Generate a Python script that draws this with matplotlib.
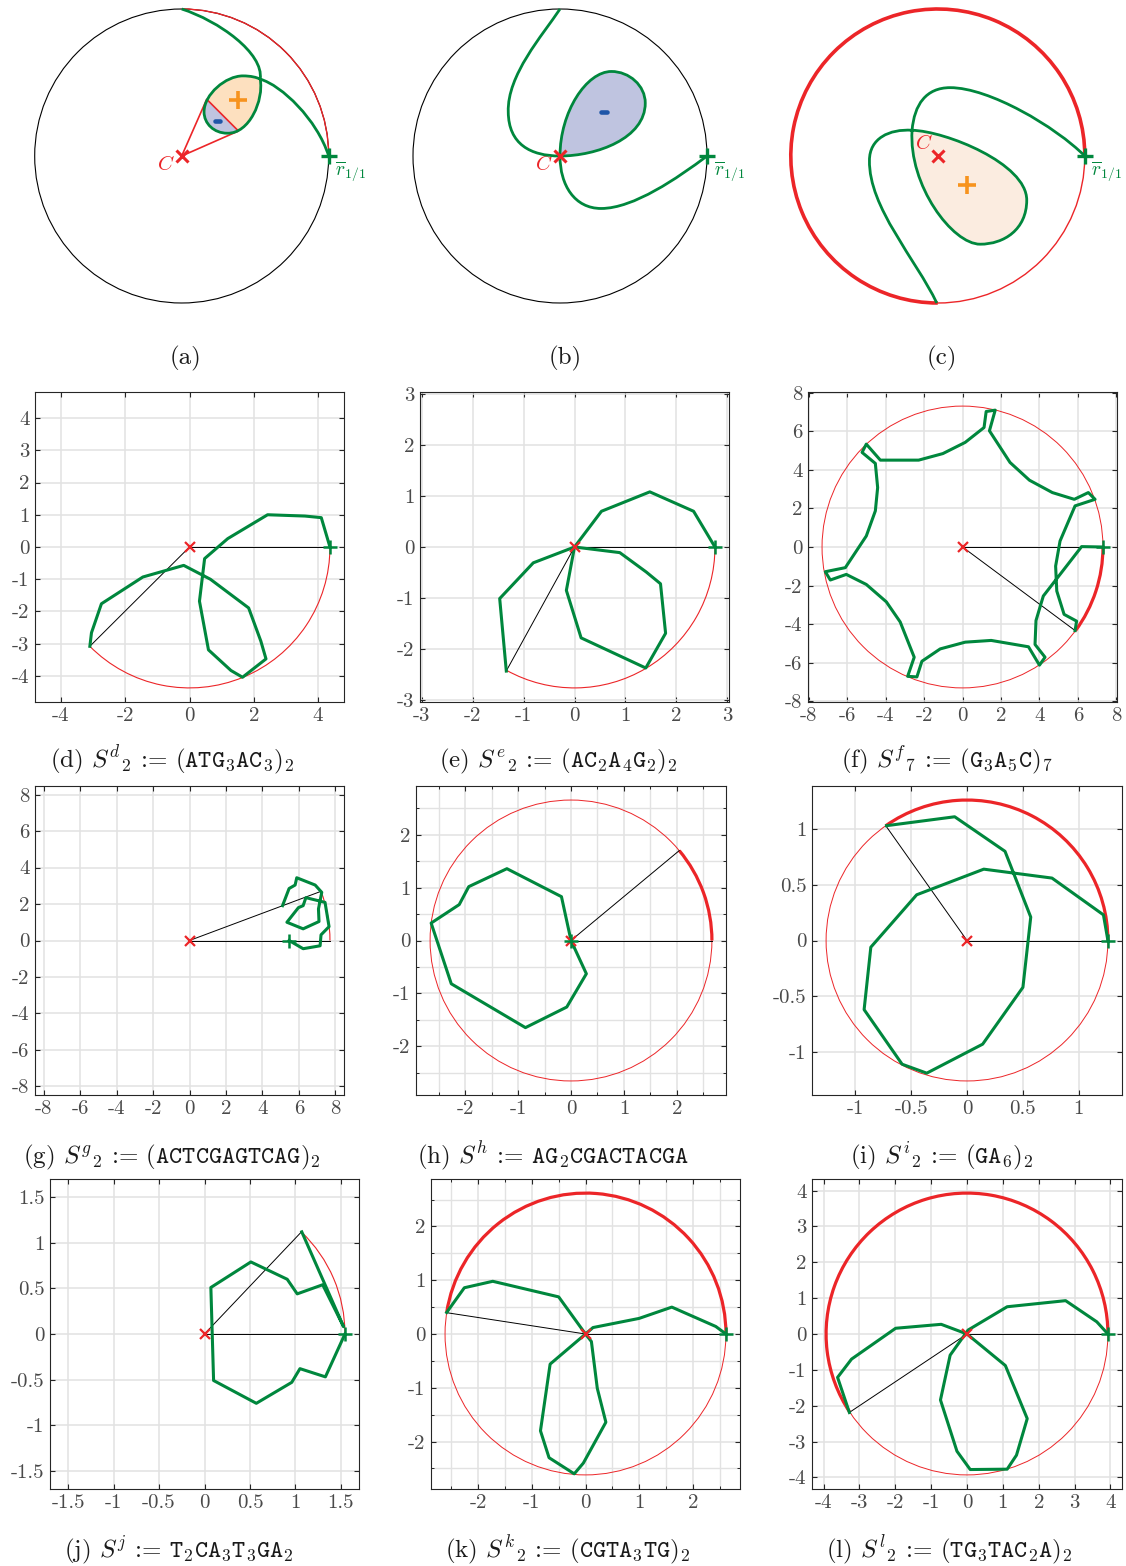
import numpy as np
import matplotlib
matplotlib.use('Agg')
import matplotlib.pyplot as plt
from matplotlib.patches import Arc, Circle, PathPatch, Polygon
from matplotlib.path import Path
from matplotlib.ticker import MultipleLocator, FuncFormatter

W, H = 1126, 1566
GREEN = '#00873d'
RED = '#ec2528'
ORANGE = '#f7931e'
BLUE = '#1f56a8'
FILL_ORANGE = '#fde0bf'
FILL_ORANGE_C = '#fbece0'
FILL_BLUE = '#bfc4e0'
GRID = '#e2e2e2'
AXC = '#262626'
TICKC = '#4a4a4a'

plt.rcParams['font.family'] = 'cmr10'
plt.rcParams['mathtext.fontset'] = 'cm'
plt.rcParams['axes.unicode_minus'] = False

# --- schematic curves (a)-(c), unit circle, cubic bezier control points ---
A_CURVE = [(0, 1), (0.25, 0.92), (0.56, 0.70), (0.534, 0.523),
           (0.56, 0.38), (0.46, 0.15), (0.31, 0.155),
           (0.22, 0.155), (0.152, 0.22), (0.152, 0.30),
           (0.152, 0.42), (0.30, 0.545), (0.416, 0.545),
           (0.47, 0.545), (0.51, 0.535), (0.534, 0.523),
           (0.68, 0.48), (0.92, 0.25), (1.0, 0.0)]
A_CHORD = [(0.17, 0.386), (0.386, 0.17)]
A_PLUS = (0.382, 0.382)
A_MINUS = (0.243, 0.241)

B_CURVE = [(0, 1), (-0.12, 0.82), (-0.36, 0.55), (-0.352, 0.30),
           (-0.35, 0.08), (-0.2, 0.0), (0, 0),
           (0.25, 0.0), (0.58, 0.12), (0.58, 0.36),
           (0.58, 0.48), (0.47, 0.575), (0.35, 0.575),
           (0.18, 0.575), (0.0, 0.3), (0, 0),
           (0.0, -0.2), (0.1, -0.357), (0.28, -0.357),
           (0.5, -0.357), (0.8, -0.15), (1, 0)]
B_MINUS = (0.30, 0.298)

C_CURVE = [(-0.007, -1.0), (-0.15, -0.70), (-0.47, -0.35), (-0.465, -0.03),
           (-0.465, 0.12), (-0.33, 0.185), (-0.175, 0.175),
           (0.05, 0.17), (0.605, -0.05), (0.605, -0.30),
           (0.605, -0.50), (0.45, -0.60), (0.288, -0.60),
           (0.10, -0.60), (-0.20, -0.20), (-0.175, 0.175),
           (-0.16, 0.35), (-0.08, 0.465), (0.084, 0.465),
           (0.35, 0.465), (0.8, 0.2), (1.0, 0.0)]
C_PLUS = (0.197, -0.2)

# --- walks (d)-(l) ---
D_X = [4.37, 4.10, 3.59, 2.43, 1.19, 0.47, 0.31, 0.59, 1.29, 1.65, 2.38, 2.22, 1.84, 0.65, -0.18, -1.45, -2.74, -3.05, -3.10]
D_Y = [0.0, 0.91, 0.96, 1.00, 0.26, -0.36, -1.68, -3.19, -3.83, -4.04, -3.47, -2.92, -1.89, -1.00, -0.57, -0.93, -1.76, -2.66, -3.08]
E_X = [2.76, 2.34, 1.48, 0.53, 0.0, 0.89, 1.41, 1.69, 1.79, 1.40, 0.13, -0.16, 0.0, -0.81, -1.47, -1.34]
E_Y = [0.0, 0.70, 1.08, 0.70, 0.0, -0.11, -0.49, -0.72, -1.69, -2.37, -1.78, -0.85, 0.0, -0.31, -1.01, -2.43]
F_X = [7.30, 6.19, 4.20, 3.82, 3.77, 4.29, 4.00, 3.43, 1.49, 0.14, -1.16, -2.11, -2.37, -2.85, -2.51, -3.24, -3.96,
       -5.00, -6.04, -6.87, -7.13, -6.09, -5.00, -4.53, -4.41, -4.53, -5.22, -5.00, -4.27, -2.28, -1.02, 0.14, 1.12,
       1.23, 1.70, 1.40, 2.47, 3.48, 4.67, 5.81, 6.54, 6.89, 5.85, 5.07, 4.84, 4.90, 5.28, 5.93, 5.85]
F_Y = [0.00, 0.02, -2.54, -3.81, -5.05, -5.71, -6.12, -5.17, -4.84, -4.93, -5.28, -5.92, -6.73, -6.70, -5.71, -3.88,
       -2.84, -1.94, -1.42, -1.71, -1.28, -1.07, 0.57, 1.87, 3.08, 4.33, 4.90, 5.33, 4.50, 4.50, 4.84, 5.42, 6.19,
       7.02, 7.09, 6.02, 4.38, 3.46, 2.82, 2.47, 2.82, 2.47, 2.13, 0.31, -0.99, -2.28, -3.49, -3.84, -4.33]
G_X = [5.46, 6.23, 7.16, 7.21, 7.65, 7.43, 6.38, 6.23, 5.97, 5.34, 6.23, 7.10, 7.07, 7.25, 6.89, 5.88, 5.79, 5.46, 5.10]
G_Y = [0.0, -0.45, -0.29, 0.31, 0.76, 2.09, 2.35, 1.91, 1.80, 1.00, 0.64, 1.04, 1.73, 2.64, 3.04, 3.44, 3.04, 2.85, 1.91]
H_X = [0.0, -0.18, -1.21, -1.93, -2.11, -2.64, -2.26, -0.86, -0.08, 0.29, 0.0]
H_Y = [0.0, 0.83, 1.36, 1.02, 0.68, 0.33, -0.82, -1.65, -1.26, -0.63, 0.0]
I_X = [1.26, 1.22, 0.76, 0.15, -0.45, -0.86, -0.92, -0.58, -0.36, 0.14, 0.50, 0.57, 0.34, -0.11, -0.72]
I_Y = [0.0, 0.23, 0.56, 0.64, 0.41, -0.06, -0.62, -1.11, -1.19, -0.93, -0.42, 0.21, 0.80, 1.11, 1.03]
J_X = [1.545, 1.33, 1.05, 0.96, 0.57, 0.10, 0.07, 0.51, 0.91, 1.02, 1.30, 1.53, 1.07]
J_Y = [0.0, -0.47, -0.38, -0.53, -0.76, -0.51, 0.51, 0.79, 0.60, 0.44, 0.54, 0.08, 1.12]
K_X = [2.62, 2.43, 1.61, 1.00, 0.14, 0.0, 0.11, 0.22, 0.38, -0.04, -0.21, -0.68, -0.84, -0.66, 0.0, -0.50, -1.73, -2.26, -2.59]
K_Y = [0.0, 0.14, 0.50, 0.29, 0.12, 0.0, -0.14, -1.01, -1.64, -2.40, -2.60, -2.30, -1.80, -0.56, 0.0, 0.69, 0.98, 0.86, 0.40]
L_X = [3.93, 3.62, 2.75, 1.12, 0.03, -0.47, -0.74, -0.28, 0.09, 1.12, 1.38, 1.68, 1.07, 0.0, -0.72, -1.99, -3.22, -3.61, -3.28]
L_Y = [0.0, 0.34, 0.93, 0.76, 0.11, -0.59, -1.84, -3.27, -3.78, -3.77, -3.38, -2.36, -0.88, 0.0, 0.27, 0.16, -0.70, -1.21, -2.19]

RADII = {'d': 4.37, 'e': 2.76, 'f': 7.3, 'g': 7.7, 'h': 2.66, 'i': 1.26, 'j': 1.545, 'k': 2.62, 'l': 3.93}
# winding angle (degrees) swept by the red arc
WIND_DEG = {'d': -135.2, 'e': -118.9, 'f': -36.5, 'g': 20.5, 'h': 39.8,
            'i': 125.2, 'j': 46.4, 'k': 171.3, 'l': 213.7}
FULL_CIRCLE = ['f', 'h', 'i', 'k', 'l']
TICK_STEP = {'d': (2, 1), 'e': (1, 1), 'f': (2, 2), 'g': (2, 2), 'h': (1, 1),
             'i': (0.5, 0.5), 'j': (0.5, 0.5), 'k': (1, 1), 'l': (1, 1)}
MINOR_GRID = ['h', 'k']

CAPTIONS = {
    'a': '(a)', 'b': '(b)', 'c': '(c)',
    'd': r'(d) $S^{d}{}_{2}$ := $(\mathtt{ATG}_{3}\mathtt{AC}_{3})_{2}$',
    'e': r'(e) $S^{e}{}_{2}$ := $(\mathtt{AC}_{2}\mathtt{A}_{4}\mathtt{G}_{2})_{2}$',
    'f': r'(f) $S^{f}{}_{7}$ := $(\mathtt{G}_{3}\mathtt{A}_{5}\mathtt{C})_{7}$',
    'g': r'(g) $S^{g}{}_{2}$ := $(\mathtt{ACTCGAGTCAG})_{2}$',
    'h': r'(h) $S^{h}$ := $\mathtt{AG}_{2}\mathtt{CGACTACGA}$',
    'i': r'(i) $S^{i}{}_{2}$ := $(\mathtt{GA}_{6})_{2}$',
    'j': r'(j) $S^{j}$ := $\mathtt{T}_{2}\mathtt{CA}_{3}\mathtt{T}_{3}\mathtt{GA}_{2}$',
    'k': r'(k) $S^{k}{}_{2}$ := $(\mathtt{CGTA}_{3}\mathtt{TG})_{2}$',
    'l': r'(l) $S^{l}{}_{2}$ := $(\mathtt{TG}_{3}\mathtt{TAC}_{2}\mathtt{A})_{2}$',
}

WALKS = {'d': (D_X, D_Y), 'e': (E_X, E_Y), 'f': (F_X, F_Y), 'g': (G_X, G_Y), 'h': (H_X, H_Y),
         'i': (I_X, I_Y), 'j': (J_X, J_Y), 'k': (K_X, K_Y), 'l': (L_X, L_Y)}

# layout in pixels: (left, top, width, height)
BOXES = {'d': (35, 392, 309, 310), 'e': (420, 392, 309, 310), 'f': (808, 392, 309, 310),
         'g': (35, 786, 309, 309), 'h': (416, 786, 310, 309), 'i': (812, 786, 310, 309),
         'j': (50, 1179, 309, 310), 'k': (431, 1179, 309, 310), 'l': (812, 1179, 310, 310)}
CAP_POS = {'a': (186, 364), 'b': (565, 364), 'c': (942, 364),
           'd': (172, 767), 'e': (558, 767), 'f': (947, 767),
           'g': (172, 1163), 'h': (553, 1163), 'i': (942, 1163),
           'j': (179, 1557), 'k': (568, 1557), 'l': (949, 1557)}
SCHEM_CENTER = {'a': 181.7, 'b': 560.0, 'c': 937.8}
SCHEM_R = 147.0


def px_axes(fig, left, top, width, height):
    return fig.add_axes([left / W, 1 - (top + height) / H, width / W, height / H])


def bez(points):
    codes = [Path.MOVETO] + [Path.CURVE4] * (len(points) - 1)
    return Path(points, codes)


def schem_axes(fig, key):
    cx = SCHEM_CENTER[key]
    ax = px_axes(fig, cx - 150, 6, 300, 300)
    lim = 150 / SCHEM_R
    ax.set_xlim(-lim, lim)
    ax.set_ylim(-lim, lim)
    ax.axis('off')
    return ax


def common_marks(ax, c_pos):
    ax.plot(0, 0, 'x', color=RED, ms=9, mew=2.2, clip_on=False, zorder=6)
    ax.plot(1, 0, '+', color=GREEN, ms=12, mew=2.4, clip_on=False, zorder=6)
    ax.text(c_pos[0], c_pos[1], r'$C$', color=RED, fontsize=15, ha='center', va='center')
    ax.text(1.15, -0.1, r'$\overline{r}_{1/1}$', color=GREEN, fontsize=14, ha='center', va='center')


def minus_bar(ax, pos):
    ax.plot([pos[0] - 0.018, pos[0] + 0.018], [pos[1], pos[1]], color=BLUE, lw=3.3,
            solid_capstyle='round', zorder=5, clip_on=False)


fig = plt.figure(figsize=(W / 100, H / 100), dpi=100)

# (a)
ax = schem_axes(fig, 'a')
ax.add_patch(Circle((0, 0), 1, fill=False, ec='black', lw=0.8, clip_on=False))
ax.add_patch(Arc((0, 0), 2, 2, theta1=0, theta2=90, color=RED, lw=1.0, clip_on=False))
loop = bez(A_CURVE[3:16])
ax.add_patch(PathPatch(loop, fc=FILL_ORANGE, ec='none', clip_on=False))
L, M = np.array(A_CHORD[0]), np.array(A_CHORD[1])
half = Polygon([L + 3 * (L - M), M + 3 * (M - L), (-1.0, -1.0)], closed=True, transform=ax.transData)
blue = PathPatch(loop, fc=FILL_BLUE, ec='none')
ax.add_patch(blue)
blue.set_clip_path(half)
ax.plot([0, L[0], M[0], 0], [0, L[1], M[1], 0], color=RED, lw=1.2, clip_on=False, zorder=3)
ax.add_patch(PathPatch(bez(A_CURVE), fill=False, ec=GREEN, lw=2.0, clip_on=False, zorder=4))
ax.plot(*A_PLUS, '+', color=ORANGE, ms=13, mew=2.6, zorder=5)
minus_bar(ax, A_MINUS)
common_marks(ax, (-0.109, -0.061))

# (b)
ax = schem_axes(fig, 'b')
ax.add_patch(Circle((0, 0), 1, fill=False, ec='black', lw=0.8, clip_on=False))
ax.add_patch(PathPatch(bez(B_CURVE[6:16]), fc=FILL_BLUE, ec='none', clip_on=False))
ax.add_patch(PathPatch(bez(B_CURVE), fill=False, ec=GREEN, lw=2.0, clip_on=False, zorder=4))
minus_bar(ax, B_MINUS)
common_marks(ax, (-0.109, -0.061))

# (c)
ax = schem_axes(fig, 'c')
ax.add_patch(Circle((0, 0), 1, fill=False, ec=RED, lw=1.0, clip_on=False))
ax.add_patch(Arc((0, 0), 2, 2, theta1=0, theta2=270, color=RED, lw=2.6, clip_on=False))
ax.add_patch(PathPatch(bez(C_CURVE[6:16]), fc=FILL_ORANGE_C, ec='none', clip_on=False))
ax.add_patch(PathPatch(bez(C_CURVE), fill=False, ec=GREEN, lw=2.0, clip_on=False, zorder=4))
ax.plot(*C_PLUS, '+', color=ORANGE, ms=13, mew=2.6, zorder=5)
common_marks(ax, (-0.098, 0.084))

fmt = FuncFormatter(lambda v, p: '%g' % (round(v, 6) + 0.0))

for key, (xs, ys) in WALKS.items():
    ax = px_axes(fig, *BOXES[key])
    r = RADII[key]
    lim = 1.1 * r
    ax.set_xlim(-lim, lim)
    ax.set_ylim(-lim, lim)
    sx, sy = TICK_STEP[key]
    ax.xaxis.set_major_locator(MultipleLocator(sx))
    ax.yaxis.set_major_locator(MultipleLocator(sy))
    ax.xaxis.set_major_formatter(fmt)
    ax.yaxis.set_major_formatter(fmt)
    ax.set_axisbelow(True)
    ax.grid(True, which='major', color=GRID, lw=1.1)
    if key in MINOR_GRID:
        ax.xaxis.set_minor_locator(MultipleLocator(0.5))
        ax.yaxis.set_minor_locator(MultipleLocator(0.5))
        ax.grid(True, which='minor', color=GRID, lw=1.0)
        ax.tick_params(which='minor', direction='in', length=2.5, width=0.7, color=AXC,
                       top=True, right=True)
    ax.tick_params(which='major', direction='in', length=3.5, width=0.8, color=AXC,
                   labelcolor=TICKC, labelsize=15, top=True, right=True, pad=4)
    for sp in ax.spines.values():
        sp.set_color(AXC)
        sp.set_linewidth(0.8)

    ang = WIND_DEG[key]
    full = key in FULL_CIRCLE
    if full:
        ax.add_patch(Circle((0, 0), r, fill=False, ec=RED, lw=0.7))
    t1, t2 = (ang, 0) if ang < 0 else (0, ang)
    ax.add_patch(Arc((0, 0), 2 * r, 2 * r, theta1=t1, theta2=t2, color=RED,
                     lw=2.3 if full else 0.8))
    ex, ey = r * np.cos(np.radians(ang)), r * np.sin(np.radians(ang))
    ax.plot([0, r], [0, 0], color='black', lw=0.7)
    ax.plot([0, ex], [0, ey], color='black', lw=0.7)
    ax.plot(xs, ys, color=GREEN, lw=2.2)
    ax.plot(0, 0, 'x', color=RED, ms=7, mew=1.6)
    ax.plot(xs[0], ys[0], '+', color=GREEN, ms=10, mew=1.8)

for key, (x, y) in CAP_POS.items():
    fig.text(x / W, 1 - y / H, CAPTIONS[key], fontsize=18, ha='center', va='baseline', color='#1a1a1a')

fig.savefig('out.png', dpi=100)
